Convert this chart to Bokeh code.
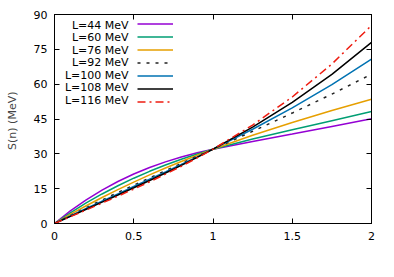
from bokeh.plotting import figure
from bokeh.models import (Range1d, FixedTicker, LinearAxis, Label, Legend, LegendItem,
                          CustomJSTickFormatter)
from bokeh.embed import file_html
from bokeh.resources import INLINE

# ---- data ----
n_ratio = [0, 0.1, 0.2, 0.3, 0.4, 0.5, 0.6, 0.7, 0.8, 0.9, 1.0, 1.25, 1.5, 1.75, 2.0]
S_L44 = [0, 5.40, 10.18, 14.40, 18.10, 21.32, 24.12, 26.54, 28.63, 30.43, 32, 35.30, 38.50, 41.80, 45.1]
S_L60 = [0, 4.61, 8.85, 12.72, 16.27, 19.51, 22.47, 25.18, 27.65, 29.92, 32, 36.40, 40.40, 44.29, 48.2]
S_L76 = [0, 3.91, 7.65, 11.21, 14.60, 17.84, 20.94, 23.89, 26.71, 29.41, 32, 38.03, 43.53, 48.65, 53.5]
S_L92 = [0, 3.44, 6.80, 10.10, 13.33, 16.52, 19.66, 22.77, 25.86, 28.93, 32, 39.70, 47.56, 55.71, 64.3]
S_L100 = [0, 3.25, 6.45, 9.62, 12.78, 15.92, 19.08, 22.25, 25.45, 28.70, 32, 40.58, 49.77, 59.78, 70.8]
S_L108 = [0, 3.08, 6.14, 9.20, 12.27, 15.38, 18.53, 21.75, 25.06, 28.47, 32, 41.48, 52.13, 64.20, 78.0]
S_L116 = [0, 2.92, 5.84, 8.79, 11.77, 14.83, 17.98, 21.25, 24.66, 28.24, 32, 42.39, 54.49, 68.67, 85.3]

series_labels = ["L=44 MeV", "L=60 MeV", "L=76 MeV", "L=92 MeV",
                 "L=100 MeV", "L=108 MeV", "L=116 MeV"]
series_values = [S_L44, S_L60, S_L76, S_L92, S_L100, S_L108, S_L116]
series_colors = ["#9400d3", "#009e73", "#e69f00", "#222222", "#0072b2", "#000000", "#ee1c10"]
series_dash = ["solid", "solid", "solid", "3 6", "solid", "solid", "8 4 2 4"]

x_ticks = [0, 0.5, 1, 1.5, 2]
x_tick_labels = ["0", "0.5", "1", "1.5", "2"]
y_ticks = [0, 15, 30, 45, 60, 75, 90]
y_tick_labels = ["0", "15", "30", "45", "60", "75", "90"]

FONT = "DejaVu Sans"
FS = "11px"

p = figure(frame_width=317, frame_height=209,
           min_border_left=54, min_border_right=15, min_border_top=14, min_border_bottom=46,
           x_range=Range1d(0, 2), y_range=Range1d(0, 90),
           output_backend="svg", toolbar_location=None)
p.grid.visible = False
p.outline_line_color = "black"
p.outline_line_width = 1
p.background_fill_color = "white"
p.border_fill_color = "white"

def style_axis(ax, ticks, labels, show_labels=True):
    ax.ticker = FixedTicker(ticks=ticks)
    ax.minor_tick_line_color = None
    ax.major_tick_in = 5
    ax.major_tick_out = 0
    ax.major_tick_line_color = "black"
    ax.axis_line_color = "black"
    if show_labels:
        ax.major_label_overrides = {t: l for t, l in zip(ticks, labels)}
        ax.major_label_text_font = FONT
        ax.major_label_text_font_size = FS
        ax.major_label_text_color = "black"
    else:
        ax.formatter = CustomJSTickFormatter(code="return ''")
        ax.major_label_text_font_size = "0px"
        ax.major_label_standoff = 0

style_axis(p.xaxis[0], x_ticks, x_tick_labels)
style_axis(p.yaxis[0], y_ticks, y_tick_labels)
p.xaxis[0].major_label_standoff = 8
p.yaxis[0].major_label_standoff = 7
p.yaxis[0].axis_label = "S(n)  (MeV)"
p.yaxis[0].axis_label_text_font = FONT
p.yaxis[0].axis_label_text_font_size = FS
p.yaxis[0].axis_label_text_font_style = "normal"
p.yaxis[0].axis_label_standoff = 12

top_ax = LinearAxis()
style_axis(top_ax, x_ticks, x_tick_labels, show_labels=False)
p.add_layout(top_ax, "above")
right_ax = LinearAxis()
style_axis(right_ax, y_ticks, y_tick_labels, show_labels=False)
p.add_layout(right_ax, "right")

renderers = []
for vals, col, dash in zip(series_values, series_colors, series_dash):
    r = p.line(n_ratio, vals, line_color=col, line_width=1.5, line_dash=dash)
    renderers.append(r)

# legend: samples via Bokeh legend, texts as labels to the left
legend = Legend(items=[LegendItem(label=" ", renderers=[r]) for r in renderers],
                location=(83, 115), padding=0, margin=0, spacing=0,
                glyph_width=36, glyph_height=13, label_standoff=0,
                label_width=0, label_height=0, label_text_font_size="1px",
                border_line_color=None, background_fill_alpha=0)
p.add_layout(legend)

row_top = 198.5
row_step = 12.55
for i, lab in enumerate(series_labels):
    p.add_layout(Label(x=74, y=row_top - i * row_step, x_units="screen", y_units="screen",
                       text=lab, text_align="right", text_baseline="middle",
                       text_font=FONT, text_font_size=FS, text_color="black"))

# x-axis label n/n0 with subscript
p.add_layout(Label(x=164.5, y=-33, x_units="screen", y_units="screen", text="n/n",
                   text_align="right", text_baseline="middle",
                   text_font=FONT, text_font_size=FS, text_color="black"))
p.add_layout(Label(x=165, y=-37, x_units="screen", y_units="screen", text="0",
                   text_align="left", text_baseline="middle",
                   text_font=FONT, text_font_size="8px", text_color="black"))

open("out.html", "w").write(file_html(p, INLINE))
